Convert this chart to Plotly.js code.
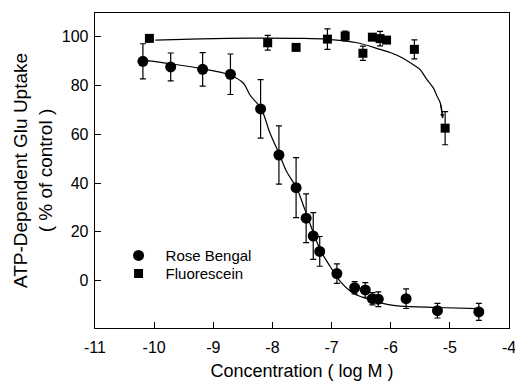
<!DOCTYPE html>
<html>
<head>
<meta charset="utf-8">
<script src="https://cdn.plot.ly/plotly-3.0.1.min.js"></script>
<style>html,body{margin:0;padding:0;background:#fff;}#chart{width:515px;height:383px;}</style>
</head>
<body>
<div id="chart"></div>
<script>
// Rose Bengal measured points (log M, % of control, SEM)
const rbX = [-10.19, -9.72, -9.18, -8.71, -8.20, -7.89, -7.60, -7.43, -7.31, -7.20, -6.91, -6.61, -6.43, -6.31, -6.21, -5.74, -5.21, -4.51];
const rbY = [89.9, 87.6, 86.6, 84.6, 70.4, 51.5, 38.1, 25.6, 18.3, 12.0, 2.9, -2.9, -3.8, -7.4, -7.6, -7.4, -12.3, -12.8];
const rbErr = [7.2, 5.7, 6.9, 8.3, 12.0, 11.9, 12.3, 10.0, 9.6, 6.1, 4.0, 2.5, 3.0, 2.5, 3.0, 4.0, 3.0, 3.5];

// Fluorescein measured points
const flX = [-10.08, -8.08, -7.60, -7.07, -6.77, -6.47, -6.31, -6.18, -6.07, -5.60, -5.08];
const flY = [99.3, 97.5, 95.6, 99.0, 100.3, 93.2, 99.8, 99.2, 98.6, 94.8, 62.5];
const flErr = [0, 3.0, 0, 4.2, 2.0, 2.9, 0, 3.0, 0, 3.9, 6.8];

// Fitted curves
const rbFitX = [-10.19, -9.72, -9.22, -8.72, -8.49, -8.38, -8.19, -8.04, -7.89, -7.76, -7.59, -7.45, -7.19, -7.02, -6.85, -6.63, -6.35, -6.06, -5.84, -5.22, -4.52];
const rbFitY = [90.4, 88.9, 87.0, 84.3, 80.9, 76.1, 70.4, 60.4, 52.2, 44.7, 38.0, 29.0, 12.6, 5.7, -0.4, -5.2, -7.9, -9.7, -10.4, -11.0, -11.5];
const flFitX = [-9.98, -9.22, -8.38, -7.53, -7.07, -6.57, -6.18, -6.00, -5.84, -5.61, -5.50, -5.39, -5.28, -5.22, -5.16, -5.12];
const flFitY = [98.6, 99.1, 99.4, 99.3, 98.9, 97.5, 94.8, 93.4, 91.8, 88.4, 86.4, 82.5, 79.0, 75.8, 72.7, 66.6];

// Axis ticks
const xTicks = [-11, -10, -9, -8, -7, -6, -5, -4];
const yTicks = [0, 20, 40, 60, 80, 100];

const FONT = 'Liberation Sans, Arial, sans-serif';
const errStyle = {type: 'data', visible: true, color: '#000', thickness: 1.2, width: 3};

const traces = [
  {x: rbFitX, y: rbFitY, mode: 'lines', line: {color: '#000', width: 1.2, shape: 'spline'}, showlegend: false, hoverinfo: 'skip'},
  {x: flFitX, y: flFitY, mode: 'lines', line: {color: '#000', width: 1.2, shape: 'spline'}, showlegend: false, hoverinfo: 'skip'},
  {x: rbX, y: rbY, name: 'Rose Bengal', mode: 'markers', legend: 'legend',
   marker: {symbol: 'circle', size: 11, color: '#000'},
   error_y: Object.assign({array: rbErr}, errStyle)},
  {x: flX, y: flY, name: 'Fluorescein', mode: 'markers', legend: 'legend2',
   marker: {symbol: 'square', size: 9, color: '#000'},
   error_y: Object.assign({array: flErr}, errStyle)}
];

const legendBase = {xanchor: 'left', yanchor: 'top', bgcolor: 'rgba(0,0,0,0)', borderwidth: 0,
  font: {family: FONT, size: 15, color: '#000'}, itemwidth: 44, tracegroupgap: 0};

const n = flFitX.length;
const layout = {
  width: 515, height: 383,
  margin: {l: 95, r: 6, t: 13, b: 55},
  paper_bgcolor: '#fff', plot_bgcolor: '#fff',
  font: {family: FONT, color: '#000', size: 16},
  showlegend: true,
  legend: Object.assign({x: 0.040, y: 0.282}, legendBase),
  legend2: Object.assign({x: 0.040, y: 0.225}, legendBase),
  xaxis: {range: [-11, -4], tickvals: xTicks, ticktext: xTicks.map(String), ticks: 'inside', ticklen: 6,
          tickwidth: 1, tickcolor: '#000', showline: true, linecolor: '#000', linewidth: 1.3, mirror: true,
          showgrid: false, zeroline: false, tickfont: {family: FONT, size: 16},
          ticklabeloverflow: 'allow', ticklabelstandoff: 4,
          title: {text: 'Concentration ( log M )', font: {family: FONT, size: 18}, standoff: 10}},
  yaxis: {range: [-19.4, 109.7], tickvals: yTicks, ticktext: yTicks.map(String), ticks: 'inside', ticklen: 6,
          tickwidth: 1, tickcolor: '#000', showline: true, linecolor: '#000', linewidth: 1.3, mirror: true,
          showgrid: false, zeroline: false, tickfont: {family: FONT, size: 16}, ticklabelstandoff: 2,
          title: {text: 'ATP-Dependent Glu Uptake<br>( % of control )', font: {family: FONT, size: 19}, standoff: 4}},
  annotations: [{
    x: flFitX[n - 1], y: flFitY[n - 1], ax: flFitX[n - 2], ay: flFitY[n - 2],
    xref: 'x', yref: 'y', axref: 'x', ayref: 'y', text: '', showarrow: true,
    arrowhead: 2, arrowsize: 0.7, arrowwidth: 1.2, arrowcolor: '#000'
  }]
};

Plotly.newPlot('chart', traces, layout, {displayModeBar: false, staticPlot: true});
</script>
</body>
</html>
